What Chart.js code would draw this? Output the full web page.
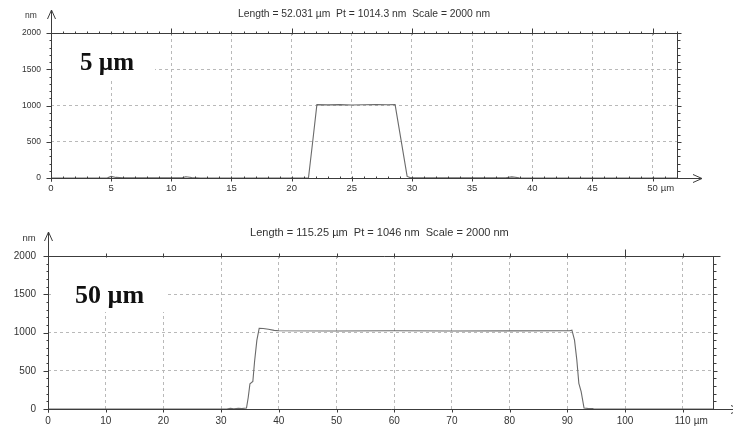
<!DOCTYPE html>
<html>
<head>
<meta charset="utf-8">
<script src="https://cdn.jsdelivr.net/npm/chart.js@4"></script>
<style>
  body { margin: 0; background: #fff; }
  canvas { position: absolute; left: 0; }
</style>
</head>
<body>
<canvas id="prof1" width="733" height="205" style="top:0px"></canvas>
<canvas id="prof2" width="733" height="225" style="top:205px"></canvas>
<script>
// profile 1 (5 µm feature), x in µm, y in nm
const prof1X = [0, 4.7, 5.0, 5.4, 6.0, 10.9, 11.2, 11.7, 12.4, 21.4, 21.75, 22.1, 23.0, 24.0, 25.0, 26.0, 27.0, 28.0, 28.6, 29.1, 29.6, 29.9, 37.8, 38.3, 38.9, 52.031];
const prof1Y = [0, 2, 22, 8, 2, 2, 18, 6, 0, 0, 500, 1012, 1008, 1012, 1006, 1010, 1012, 1011, 1013, 520, 22, 2, 2, 16, 3, 0];
const prof1Ticks = [0, 5, 10, 15, 20, 25, 30, 35, 40, 45, 50];
const prof1Title = 'Length = 52.031 µm  Pt = 1014.3 nm  Scale = 2000 nm';
const prof1Tag = '5 µm';

// profile 2 (50 µm feature)
const prof2X = [0, 31.0, 31.6, 32.2, 33.0, 33.6, 34.4, 34.7, 35.0, 35.5, 35.8, 36.2, 36.6, 37.3, 38.2, 39.2, 40.0, 50, 60, 70, 80, 90.4, 90.8, 91.25, 91.65, 92.0, 92.4, 92.9, 93.5, 94.4, 94.6, 115.25];
const prof2Y = [0, 0, 10, 4, 8, 6, 12, 150, 330, 360, 620, 900, 1055, 1052, 1042, 1028, 1022, 1020, 1022, 1020, 1021, 1022, 1030, 900, 640, 336, 226, 12, 8, 5, 0, 0];
const prof2Ticks = [0, 10, 20, 30, 40, 50, 60, 70, 80, 90, 100, 110];
const prof2Title = 'Length = 115.25 µm  Pt = 1046 nm  Scale = 2000 nm';
const prof2Tag = '50 µm';

const heightTicks = [0, 500, 1000, 1500, 2000];

const SANS = '"Liberation Sans", Arial, sans-serif';

// axes, arrows, small ticks and the texts of the profilometer screen
const decorPlugin = {
    id: 'decor',
    beforeDatasetsDraw(chart, args, o) {
        const ctx = chart.ctx;
        ctx.save();
        ctx.fillStyle = '#fff';
        ctx.fillRect(o.box[0], o.box[1], o.box[2], o.box[3]);
        ctx.fillStyle = '#111';
        ctx.font = `bold ${o.tagSize}px "Liberation Serif", "Times New Roman", serif`;
        ctx.textBaseline = 'alphabetic';
        ctx.fillText(o.tag, o.tagX, o.tagY);
        ctx.restore();
    },
    afterDraw(chart, args, o) {
        const ctx = chart.ctx, a = chart.chartArea;
        const sx = chart.scales.x, sy = chart.scales.y;
        const L = Math.round(a.left) + 0.5, R = Math.round(a.right) + 0.5;
        const T = Math.round(a.top) + 0.5, B = Math.round(a.bottom) + 0.5;
        const seg = (x1, y1, x2, y2) => { ctx.moveTo(x1, y1); ctx.lineTo(x2, y2); };

        ctx.save();
        ctx.strokeStyle = '#3c3c3c';
        ctx.lineWidth = 1;
        ctx.beginPath();
        seg(L, T, R + o.topOver, T);
        seg(R, T, R, B);
        seg(L, B, o.arrowX, B);
        seg(o.arrowX - 9, B - 4, o.arrowX, B);
        seg(o.arrowX, B, o.arrowX - 9, B + 4);
        seg(L, B + 3, L, o.arrowY);
        seg(L - 4, o.arrowY + 9, L, o.arrowY);
        seg(L, o.arrowY, L + 4, o.arrowY + 9);

        for (let v = 0; v <= 2000; v += 100) {
            const y = Math.round(sy.getPixelForValue(v)) + 0.5;
            const major = v % 500 === 0;
            seg(L - (major ? 5 : 2), y, L, y);
            seg(R, y, R + (major ? 4 : 3), y);
        }
        if (o.minorStep) {
            for (let v = o.minorStep; v < sx.max; v += o.minorStep) {
                const x = Math.round(sx.getPixelForValue(v)) + 0.5;
                seg(x, B, x, B - 2);
                seg(x, T, x, T - 2);
            }
        }
        for (let v = o.topStep; v < sx.max; v += o.topStep) {
            const x = Math.round(sx.getPixelForValue(v)) + 0.5;
            seg(x, T + 1, x, T - (v % o.tallStep === 0 ? o.tallLen : o.topLen));
        }
        for (const t of sx.ticks) {
            const x = Math.round(sx.getPixelForValue(t.value)) + 0.5;
            seg(x, B, x, B + 3);
        }
        ctx.stroke();

        ctx.fillStyle = '#333';
        ctx.textBaseline = 'middle';
        // unit after last x label
        const last = sx.ticks[sx.ticks.length - 1].value;
        ctx.font = `${o.xFont}px ${SANS}`;
        const lw = ctx.measureText(String(last)).width;
        ctx.textAlign = 'left';
        ctx.fillText('µm', sx.getPixelForValue(last) + lw / 2 + 3, a.bottom + o.xPad + o.xFont * 0.6);

        // nm above the height axis
        ctx.font = `${o.nmFont}px ${SANS}`;
        ctx.textAlign = 'center';
        ctx.fillText('nm', o.nmX, o.nmY);

        // header, sized to the width seen on the screen
        ctx.font = `9px ${SANS}`;
        const size = 9 * o.titleW / ctx.measureText(o.title).width;
        ctx.font = `${size.toFixed(2)}px ${SANS}`;
        ctx.textAlign = 'left';
        ctx.fillText(o.title, o.titleX, o.titleY);
        ctx.restore();
    }
};

function profileChart(id, xs, ys, xTicks, geo, decor) {
    return new Chart(document.getElementById(id), {
        type: 'line',
        data: {
            datasets: [{
                data: xs.map((x, i) => ({ x: x, y: ys[i] })),
                borderColor: '#6a6a6a',
                borderWidth: 1.1,
                pointRadius: 0,
                tension: 0
            }]
        },
        options: {
            responsive: false,
            animation: false,
            events: [],
            layout: { padding: { top: geo.top, right: geo.right, left: 0, bottom: 0 } },
            plugins: {
                legend: { display: false },
                tooltip: { enabled: false },
                decor: decor
            },
            scales: {
                x: {
                    type: 'linear',
                    min: 0,
                    max: geo.xMax,
                    afterBuildTicks: s => { s.ticks = xTicks.map(v => ({ value: v })); },
                    afterFit: s => { s.height = geo.xHeight; },
                    grid: { color: '#b9b9b9', drawTicks: false },
                    border: { display: false, dash: [3, 3] },
                    ticks: {
                        padding: geo.xPad,
                        color: '#333',
                        maxRotation: 0,
                        autoSkip: false,
                        font: { family: SANS, size: geo.xFont },
                        callback: v => String(v)
                    }
                },
                y: {
                    min: 0,
                    max: 2000,
                    afterBuildTicks: s => { s.ticks = heightTicks.map(v => ({ value: v })); },
                    afterFit: s => { s.width = geo.left; },
                    grid: { color: '#b9b9b9', drawTicks: false },
                    border: { display: false, dash: [3, 3] },
                    ticks: {
                        padding: geo.yPad,
                        color: '#333',
                        font: { family: SANS, size: geo.yFont },
                        callback: v => String(v)
                    }
                }
            }
        },
        plugins: [decorPlugin]
    });
}

profileChart('prof1', prof1X, prof1Y, prof1Ticks,
    { top: 33, right: 56, left: 51, xHeight: 27, xMax: 52.031, xPad: 5, xFont: 9.5, yPad: 10, yFont: 8.5 },
    { box: [53, 35, 102, 45], tag: prof1Tag, tagSize: 25, tagX: 80, tagY: 70,
      topOver: 3, arrowX: 702, arrowY: 10, minorStep: 1, topStep: 10, topLen: 5, tallStep: 10, tallLen: 5,
      xFont: 9.5, xPad: 5, nmFont: 8.5, nmX: 31, nmY: 16,
      title: prof1Title, titleW: 252, titleX: 238, titleY: 14 });

profileChart('prof2', prof2X, prof2Y, prof2Ticks,
    { top: 51, right: 20, left: 48, xHeight: 21, xMax: 115.25, xPad: 6, xFont: 10, yPad: 12, yFont: 10 },
    { box: [53, 52, 114, 55], tag: prof2Tag, tagSize: 26, tagX: 75, tagY: 98,
      topOver: 7, arrowX: 740, arrowY: 27, minorStep: 0, topStep: 10, topLen: 3, tallStep: 100, tallLen: 7,
      xFont: 10, xPad: 6, nmFont: 9.5, nmX: 29, nmY: 33,
      title: prof2Title, titleW: 259, titleX: 250, titleY: 28 });
</script>
</body>
</html>
